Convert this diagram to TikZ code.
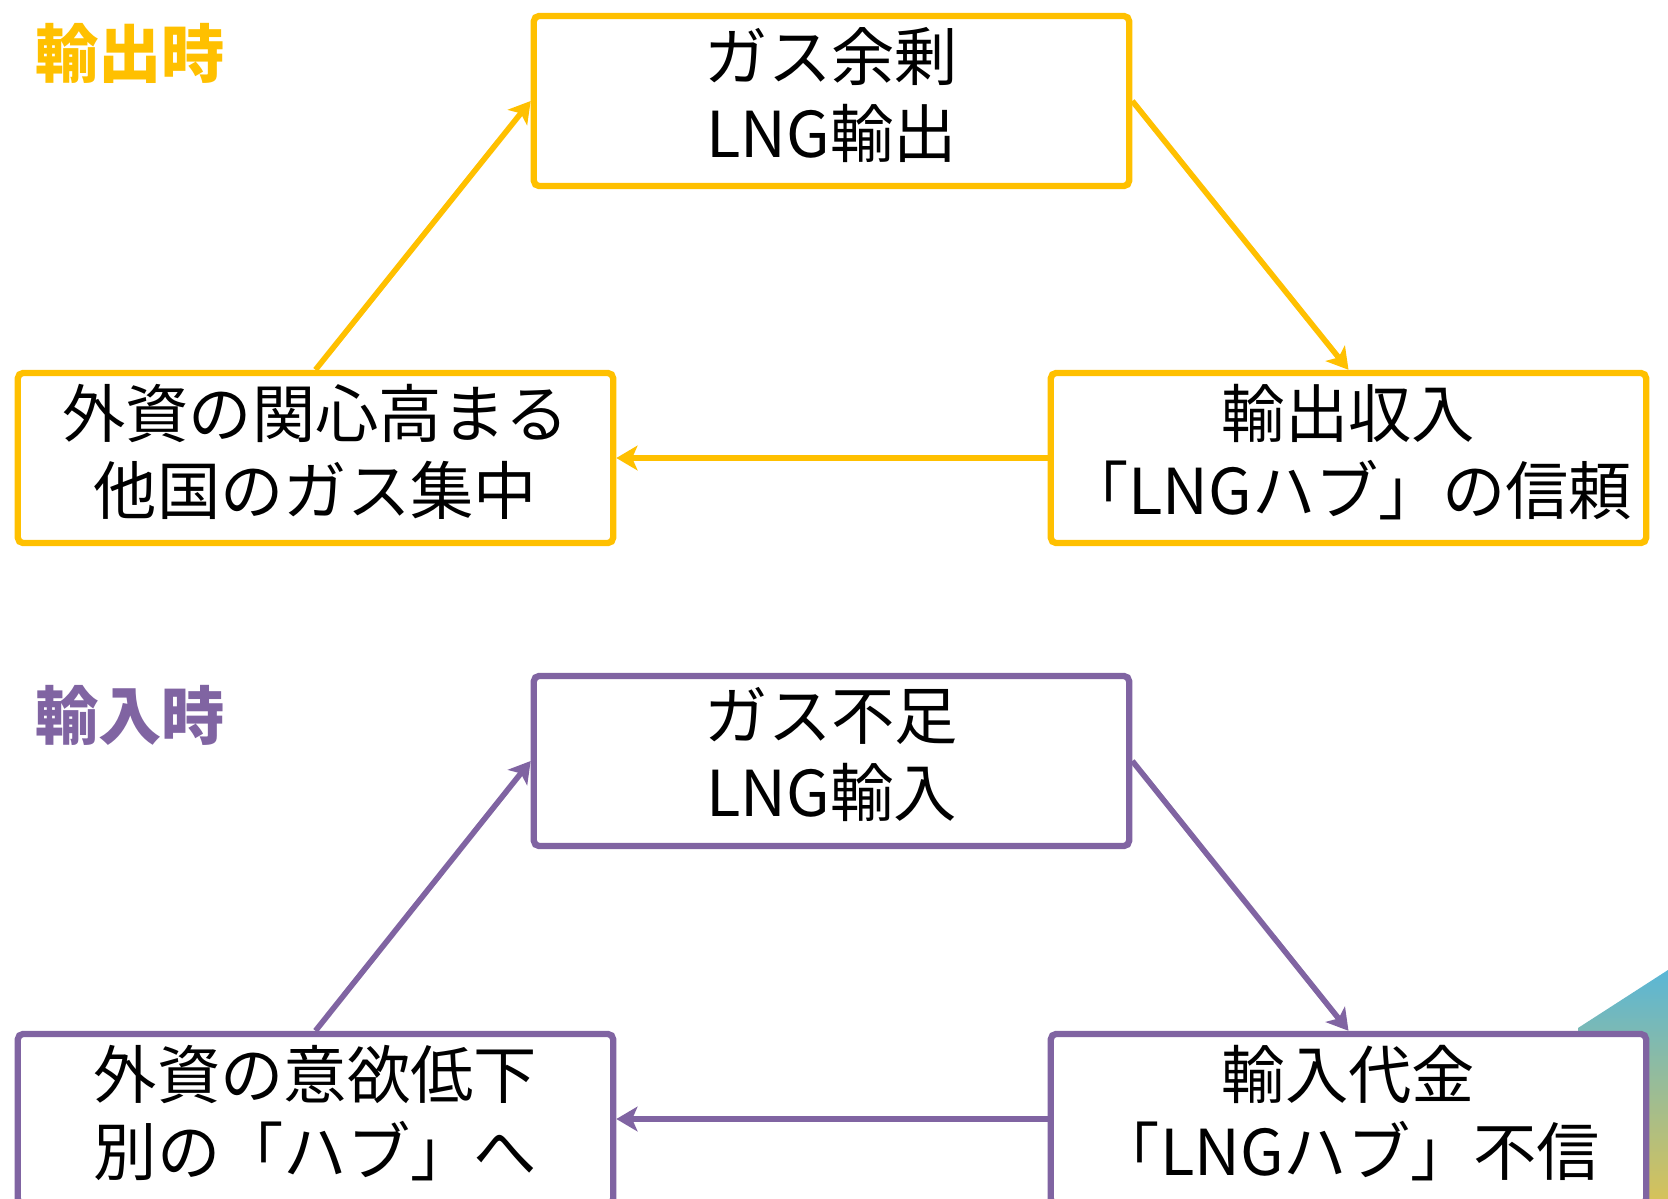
\documentclass[tikz,border=0pt]{standalone}
\usepackage{fontspec}
\newfontfamily\jp{Noto Sans CJK JP}
\usetikzlibrary{arrows.meta}
\definecolor{amarillo}{HTML}{FFC000}
\definecolor{morado}{HTML}{8064A2}
\definecolor{celeste}{HTML}{5AB6D6}
\definecolor{verde}{HTML}{A6D06E}
\definecolor{ocre}{HTML}{D6C25A}

\begin{document}
\begin{tikzpicture}[x=0.01cm,y=-0.01cm,
  caja/.style={draw,fill=white,line width=1.8pt,rounded corners=1.5pt,minimum width=5.95cm,minimum height=1.70cm,align=center,inner sep=0pt,text depth=5pt,font=\jp\fontsize{18pt}{22pt}\selectfont},
  flecha/.style={line width=1.6pt,-{Stealth[length=6pt,width=7pt,inset=1.5pt]}},
  titulo/.style={font=\jp\bfseries\fontsize{18pt}{22pt}\selectfont}]
  \useasboundingbox (0,0) rectangle (1668,1199);

  % Adorno de la esquina inferior derecha
  \shade[top color=celeste, middle color=verde, bottom color=ocre]
    (1578,1028) -- (1668,970) -- (1668,1199) -- (1578,1199) -- cycle;

  % Ciclo de exportación
  \node[titulo,text=amarillo] (t1) at (130,53) {輸出時};
  \node[caja,draw=amarillo] (ex1) at (831.5,101) {ガス余剰\\LNG輸出};
  \node[caja,draw=amarillo] (ex2) at (315.5,458) {外資の関心高まる\\他国のガス集中};
  \node[caja,draw=amarillo] (ex3) at (1348.5,458) {輸出収入\\「LNGハブ」の信頼};

  \foreach \from/\to in {ex2.north/ex1.west, ex1.east/ex3.north, ex3.west/ex2.east}
    \draw[flecha,amarillo] (\from) -- (\to);

  % Ciclo de importación
  \node[titulo,text=morado] (t2) at (130,715) {輸入時};
  \node[caja,draw=morado] (im1) at (831.5,761) {ガス不足\\LNG輸入};
  \node[caja,draw=morado] (im2) at (315.5,1119) {外資の意欲低下\\別の「ハブ」へ};
  \node[caja,draw=morado] (im3) at (1348.5,1119) {輸入代金\\「LNGハブ」不信};

  \foreach \from/\to in {im2.north/im1.west, im1.east/im3.north, im3.west/im2.east}
    \draw[flecha,morado] (\from) -- (\to);
\end{tikzpicture}
\end{document}
